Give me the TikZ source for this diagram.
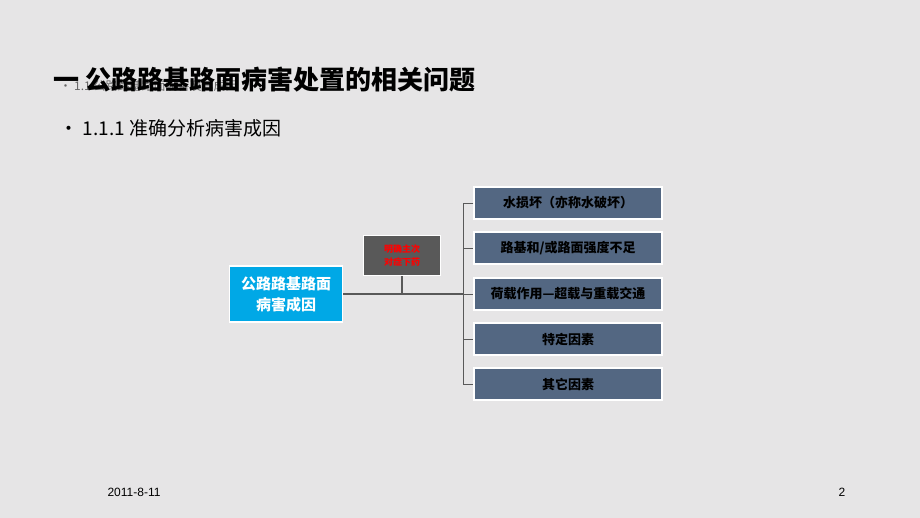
\documentclass[tikz,border=0pt]{standalone}
\usepackage{fontspec}
\setmainfont{Liberation Sans}
\newfontfamily\cjk{Noto Sans CJK SC}
\usepackage{xcolor}
\definecolor{slide}{HTML}{E6E5E6}
\definecolor{skyblue}{HTML}{00A8E6}
\definecolor{darkgr}{HTML}{595959}
\definecolor{slate}{HTML}{536782}
\definecolor{lineg}{HTML}{595959}

\begin{document}
\begin{tikzpicture}[x=1pt,y=-1pt,
		causebox/.style={fill=slate,draw=white,line width=1.2pt,minimum width=188,minimum height=32,inner sep=0pt,font=\cjk\bfseries\fontsize{13}{15}\selectfont,text=black},
		rootbox/.style={fill=skyblue,draw=white,line width=1.2pt,minimum width=113,minimum height=56,align=center,font=\cjk\bfseries\fontsize{15}{21}\selectfont,text=white},
		notebox/.style={fill=darkgr,draw=white,line width=1pt,minimum width=77,minimum height=40,align=center,font=\cjk\bfseries\fontsize{9}{13}\selectfont,text=red},
		conn/.style={lineg,line width=1.1pt}]
		\useasboundingbox[fill=slide] (0,0) rectangle (920,518);
		%
		% heading
		\node[anchor=west,text=black!60,font=\cjk\fontsize{12}{14}\selectfont] (sub) at (56,86) {• 1.1 公路路基路面病害及其成因};
		\node[anchor=west,font=\cjk\bfseries\fontsize{26}{30}\selectfont] (title) at (50,80) {一 公路路基路面病害处置的相关问题};
		\node[anchor=west,font=\cjk\fontsize{19}{22}\selectfont] (point) at (56,128) {• 1.1.1 准确分析病害成因};
		%
		% diagram
		\node[rootbox] (root) at (286,294) {公路路基路面\\病害成因};
		\node[notebox] (note) at (402,256) {明确主次\\对症下药};
		\node[causebox] (c1) at (568,203) {水损坏（亦称水破坏）};
		\node[causebox] (c2) at (568,248) {路基和/或路面强度不足};
		\node[causebox] (c3) at (568,294) {荷载作用—超载与重载交通};
		\node[causebox] (c4) at (568,339) {特定因素};
		\node[causebox] (c5) at (568,384) {其它因素};
		%
		\coordinate (fork) at (463,294);
		\coordinate (stem) at (402,294);
		\draw[conn] (root.east) -- (fork);
		\draw[conn] (note.south) -- (stem);
		\draw[conn,line width=0.8pt] (c1.west) -- (c1.west -| fork) -- (c5.west -| fork) -- (c5.west);
		\foreach \c in {c2,c3,c4}
			\draw[conn,line width=0.8pt] (\c.west -| fork) -- (\c.west);
		%
		% footer
		\node[font=\fontsize{12}{14}\selectfont] (date) at (134,492) {2011-8-11};
		\node[font=\fontsize{12}{14}\selectfont] (page) at (842,492) {2};
	\end{tikzpicture}
\end{document}
